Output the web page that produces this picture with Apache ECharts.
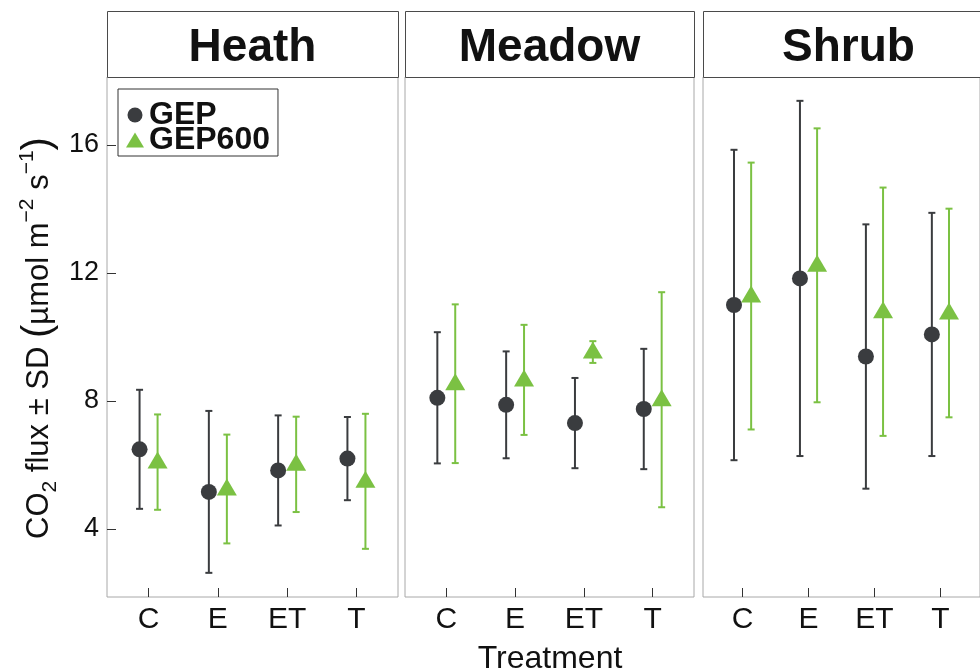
<!DOCTYPE html>
<html>
<head>
<meta charset="utf-8">
<script src="https://cdn.jsdelivr.net/npm/echarts@6/dist/echarts.min.js"></script>
<style>
  html, body { margin: 0; padding: 0; background: #ffffff; }
  #chart { width: 980px; height: 672px; }
</style>
</head>
<body>
<div id="chart"></div>
<script>
// Treatments on the x axis and the three vegetation types (facets)
const treatments = ['C', 'E', 'ET', 'T'];
const sites = ['Heath', 'Meadow', 'Shrub'];
const yTicks = [4, 8, 12, 16];

// Mean CO2 flux and standard deviation per treatment
const heathGepMean     = [6.49, 5.16, 5.83, 6.20];
const heathGepSd       = [1.86, 2.53, 1.72, 1.30];
const heathGep600Mean  = [6.09, 5.25, 6.02, 5.49];
const heathGep600Sd    = [1.49, 1.70, 1.49, 2.11];

const meadowGepMean    = [8.10, 7.88, 7.31, 7.75];
const meadowGepSd      = [2.05, 1.67, 1.41, 1.88];
const meadowGep600Mean = [8.54, 8.66, 9.53, 8.04];
const meadowGep600Sd   = [2.48, 1.72, 0.34, 3.36];

const shrubGepMean     = [11.00, 11.83, 9.39, 10.08];
const shrubGepSd       = [4.85, 5.55, 4.13, 3.80];
const shrubGep600Mean  = [11.28, 12.24, 10.79, 10.75];
const shrubGep600Sd    = [4.17, 4.28, 3.88, 3.26];

const panels = [
  { gep: [heathGepMean, heathGepSd],   gep600: [heathGep600Mean, heathGep600Sd] },
  { gep: [meadowGepMean, meadowGepSd], gep600: [meadowGep600Mean, meadowGep600Sd] },
  { gep: [shrubGepMean, shrubGepSd],   gep600: [shrubGep600Mean, shrubGep600Sd] }
];

// Layout
const frames = [
  { left: 107, width: 291 },
  { left: 405, width: 289 },
  { left: 703, width: 291 }
];
const PANEL_TOP = 77, PANEL_H = 520, STRIP_TOP = 11, STRIP_H = 66;
const DODGE = 0.13;
const DARK = '#3a3c3f', GREEN = '#7bc143';
const FONT = '"Liberation Sans", Arial, Helvetica, sans-serif';

function errorBarRenderer(color) {
  return function (params, api) {
    const x = api.value(0);
    const top = api.coord([x, api.value(2)]);
    const bot = api.coord([x, api.value(1)]);
    const w = 3.5;
    const st = { stroke: color, lineWidth: 2 };
    return {
      type: 'group',
      children: [
        { type: 'line', shape: { x1: top[0], y1: top[1], x2: bot[0], y2: bot[1] }, style: st },
        { type: 'line', shape: { x1: top[0] - w, y1: top[1], x2: top[0] + w, y2: top[1] }, style: st },
        { type: 'line', shape: { x1: bot[0] - w, y1: bot[1], x2: bot[0] + w, y2: bot[1] }, style: st }
      ]
    };
  };
}

const grid = [], xAxis = [], yAxis = [], series = [], graphic = [];

panels.forEach((p, i) => {
  const f = frames[i];
  grid.push({
    left: f.left, top: PANEL_TOP, width: f.width, height: PANEL_H,
    show: true, borderColor: '#a8a8a8', borderWidth: 1, backgroundColor: '#ffffff'
  });
  xAxis.push({
    type: 'value', gridIndex: i, min: 0.4, max: 4.6,
    splitLine: { show: false },
    axisLine: { show: false },
    axisTick: { show: true, inside: true, length: 9, customValues: [1, 2, 3, 4],
                lineStyle: { color: '#333333', width: 1 } },
    axisLabel: { show: true, customValues: [1, 2, 3, 4], margin: 8,
                 formatter: v => treatments[Math.round(v) - 1],
                 fontSize: 30, color: '#111111', fontFamily: FONT }
  });
  yAxis.push({
    type: 'value', gridIndex: i, min: 1.875, max: 18.125,
    splitLine: { show: false },
    axisLine: { show: false },
    axisTick: { show: i === 0, inside: true, length: 9, customValues: yTicks,
                lineStyle: { color: '#333333', width: 1 } },
    axisLabel: { show: i === 0, customValues: yTicks, margin: 8,
                 fontSize: 27, color: '#111111', fontFamily: FONT }
  });

  const gepPts = treatments.map((t, k) => [k + 1 - DODGE, p.gep[0][k]]);
  const gep600Pts = treatments.map((t, k) => [k + 1 + DODGE, p.gep600[0][k]]);
  const gepErr = treatments.map((t, k) => [k + 1 - DODGE, p.gep[0][k] - p.gep[1][k], p.gep[0][k] + p.gep[1][k]]);
  const gep600Err = treatments.map((t, k) => [k + 1 + DODGE, p.gep600[0][k] - p.gep600[1][k], p.gep600[0][k] + p.gep600[1][k]]);

  series.push({
    name: 'GEP', type: 'scatter', xAxisIndex: i, yAxisIndex: i, z: 4,
    symbol: 'circle', symbolSize: 16, itemStyle: { color: DARK, opacity: 1 },
    data: gepPts
  });
  series.push({
    name: 'GEP600', type: 'scatter', xAxisIndex: i, yAxisIndex: i, z: 5,
    symbol: 'triangle', symbolSize: [20, 17], symbolOffset: [0, -2],
    itemStyle: { color: GREEN, opacity: 1 },
    data: gep600Pts
  });
  series.push({
    name: 'GEP', type: 'custom', xAxisIndex: i, yAxisIndex: i, z: 2,
    renderItem: errorBarRenderer(DARK), encode: { x: 0, y: [1, 2] },
    data: gepErr, silent: true
  });
  series.push({
    name: 'GEP600', type: 'custom', xAxisIndex: i, yAxisIndex: i, z: 3,
    renderItem: errorBarRenderer(GREEN), encode: { x: 0, y: [1, 2] },
    data: gep600Err, silent: true
  });

  // facet strip
  graphic.push({
    type: 'rect', z: 10,
    shape: { x: f.left + 0.5, y: STRIP_TOP + 0.5, width: f.width, height: STRIP_H },
    style: { fill: '#ffffff', stroke: '#4a4a4a', lineWidth: 1 }
  });
  graphic.push({
    type: 'text', z: 11, x: f.left + f.width / 2, y: STRIP_TOP + STRIP_H / 2 + 4,
    style: { text: sites[i], align: 'center', verticalAlign: 'middle',
             font: 'bold 46px ' + FONT, fill: '#111111' }
  });
});

// axis titles
graphic.push({
  type: 'text', x: 550, y: 643,
  style: { text: 'Treatment', align: 'center', verticalAlign: 'top',
           font: '32px ' + FONT, fill: '#111111' }
});
graphic.push({
  type: 'text', x: 39, y: 338, rotation: Math.PI / 2,
  style: {
    text: '{t|CO}{sub|2}{t| flux ± SD }{p|(}{t|µmol m}{sup|−2}{t| s}{sup|−1}{p|)}',
    align: 'center', verticalAlign: 'middle',
    rich: {
      t:   { fontSize: 31, fontFamily: FONT, fill: '#111111', lineHeight: 44, verticalAlign: 'middle' },
      sub: { fontSize: 21, fontFamily: FONT, fill: '#111111', lineHeight: 44, verticalAlign: 'bottom' },
      sup: { fontSize: 21, fontFamily: FONT, fill: '#111111', lineHeight: 44, verticalAlign: 'top' },
      p:   { fontSize: 40, fontFamily: FONT, fill: '#111111', lineHeight: 44, verticalAlign: 'middle' }
    }
  }
});

const chart = echarts.init(document.getElementById('chart'), null, { renderer: 'canvas' });
chart.setOption({
  animation: false,
  backgroundColor: '#ffffff',
  grid, xAxis, yAxis, series, graphic,
  legend: {
    left: 118, top: 89, orient: 'vertical',
    padding: [10, 8, 0, 8], itemGap: -7, itemWidth: 18, itemHeight: 15, itemTextGap: 8,
    borderColor: '#333333', borderWidth: 1, backgroundColor: '#ffffff',
    selectedMode: false,
    textStyle: { fontSize: 32, fontWeight: 'bold', fontFamily: FONT, color: '#111111' },
    data: [
      { name: 'GEP', icon: 'circle', itemStyle: { color: DARK } },
      { name: 'GEP600', icon: 'triangle', itemStyle: { color: GREEN } }
    ]
  }
});
</script>
</body>
</html>
